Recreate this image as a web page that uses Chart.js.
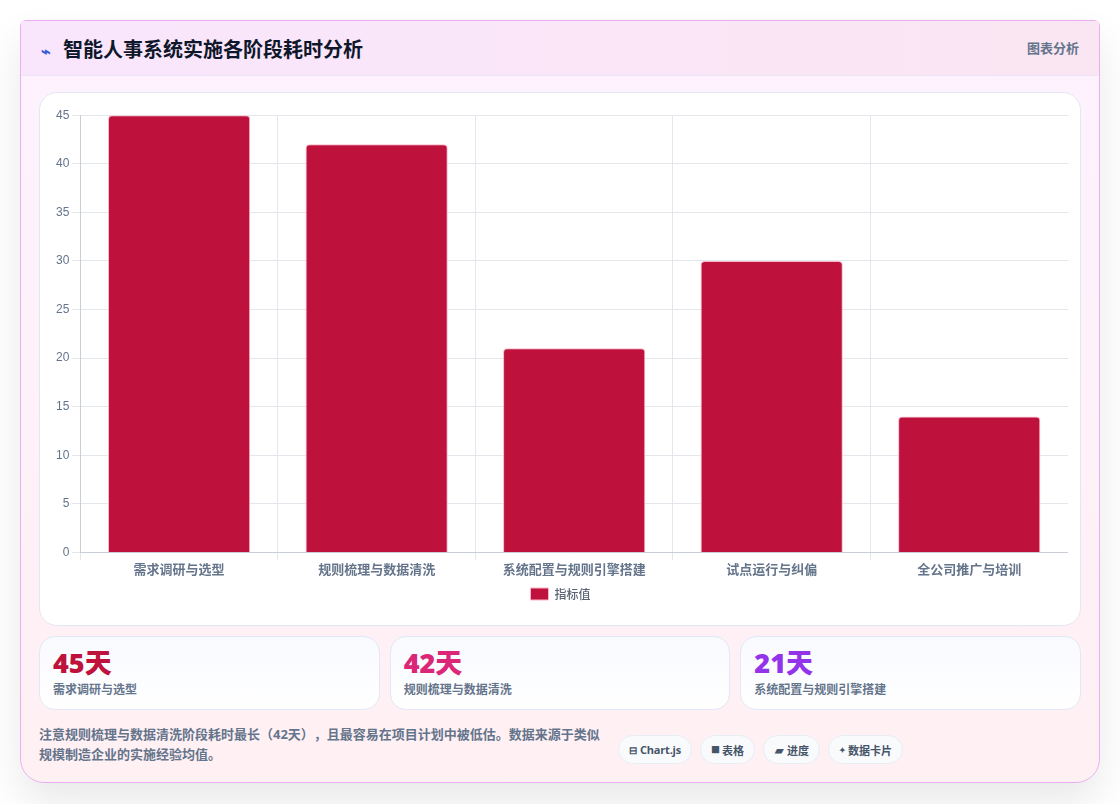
<!DOCTYPE html>
<html lang="zh">
<head>
<meta charset="utf-8">
<title>智能人事系统实施各阶段耗时分析</title>
<script src="https://cdn.jsdelivr.net/npm/chart.js@4"></script>
<style>
  * { box-sizing: border-box; }
  html, body { margin: 0; height: 804px; overflow: hidden; background: #fff; }
  body { font-family: "Open Sans", "Noto Sans CJK SC", sans-serif; text-spacing-trim: space-all; }
  .card {
    position: absolute; left: 20px; top: 20px; width: 1080px; height: 763px;
    border: 1px solid #e8b0f0; border-radius: 6px 6px 24px 24px;
    background: linear-gradient(180deg, #fdf2ff 0%, #fff0f3 100%);
    box-shadow: 0 20px 40px rgba(0,0,0,.09);
  }
  .head {
    height: 55px; padding: 0 20px; display: flex; align-items: center; justify-content: space-between;
    background: linear-gradient(90deg, #f9e6fd, #fae6f2);
    border-bottom: 1px solid #ece4f6;
  }
  .head h1 { margin: 0; font-size: 20px; font-weight: 700; color: #0f172a; }
  .head h1 i { font-style: normal; color: #3b5bdb; margin-right: 12px; font-size: 16px; }
  .head span { font-size: 13px; font-weight: 700; color: #64748b; position: relative; top: -1px; }
  .panel {
    position: absolute; left: 18px; top: 71px; width: 1042px; height: 534px;
    background: #fff; border: 1px solid #e2e8f0; border-radius: 18px;
  }
  .plot { position: absolute; left: 13px; top: 12px; width: 1015px; height: 505px; }
  .stats { position: absolute; left: 18px; top: 615px; width: 1042px; display: flex; gap: 10px; }
  .stat {
    flex: 1; height: 74px; padding: 10px 13px; border: 1px solid #e2e8f5; border-radius: 16px;
    background: linear-gradient(180deg, #f8faff, #fff);
  }
  .stat b { display: block; font-size: 27px; line-height: 32px; font-weight: 800; }
  .stat small { display: block; font-size: 12px; line-height: 21px; font-weight: 700; color: #64748b; }
  .note {
    position: absolute; left: 18px; top: 703px; width: 565px; margin: 0;
    font-size: 13px; line-height: 20px; font-weight: 700; color: #64748b;
  }
  .tags { position: absolute; left: 597px; top: 714px; display: flex; gap: 8px; }
  .tag {
    height: 29px; padding: 0 10px; display: flex; align-items: center; gap: 3px;
    border: 1px solid #e8edf5; border-radius: 15px; background: #f8fafc;
    font-size: 11px; font-weight: 700; color: #475569; white-space: nowrap;
  }
  .tag i { font-style: normal; text-align: center; display: inline-block; }
</style>
</head>
<body>
<div class="card">
  <div class="head">
    <h1><i>⌁</i>智能人事系统实施各阶段耗时分析</h1>
    <span>图表分析</span>
  </div>
  <div class="panel"><div class="plot"><canvas id="chartId"></canvas></div></div>
  <div class="stats" id="stats"></div>
  <p class="note">注意规则梳理与数据清洗阶段耗时最长（42天），且最容易在项目计划中被低估。数据来源于类似规模制造企业的实施经验均值。</p>
  <div class="tags">
    <div class="tag" style="letter-spacing:-.2px"><i style="width:8px;font-size:10px">⊟</i>Chart.js</div>
    <div class="tag"><i style="width:8px;font-size:9px">■</i>表格</div>
    <div class="tag"><i style="width:10px">▰</i>进度</div>
    <div class="tag"><i style="width:6px;font-size:8px">✦</i>数据卡片</div>
  </div>
</div>
<script>
const stages = ["需求调研与选型", "规则梳理与数据清洗", "系统配置与规则引擎搭建", "试点运行与纠偏", "全公司推广与培训"];
const days = [45, 42, 21, 30, 14];
const seriesName = "指标值";
const statColors = ["#be123c", "#db2777", "#9333ea"];

// top three stages get a summary card under the chart
const s = document.getElementById("stats");
for (let i = 0; i < statColors.length; i++) {
    s.innerHTML += '<div class="stat"><b style="color:' + statColors[i] + '">' + days[i] + '天</b><small>' + stages[i] + '</small></div>';
}

const tickColor = "#64748b";
const gridColor = "#e3e7ec";
const chrt = document.getElementById("chartId").getContext("2d");
new Chart(chrt, {
    type: "bar",
    data: {
        labels: stages,
        datasets: [{
            label: seriesName,
            data: days,
            backgroundColor: "#be123c",
            borderColor: "#fbb6c8",
            borderWidth: 1,
            borderRadius: 4
        }]
    },
    options: {
        responsive: true,
        maintainAspectRatio: false,
        animation: false,
        plugins: {
            legend: {
                position: "bottom",
                labels: { boxWidth: 18, boxHeight: 12, color: "#5b6472", font: { size: 12, weight: "500", lineHeight: 1.14, family: "'Noto Sans CJK SC'" } }
            },
            tooltip: { enabled: false }
        },
        scales: {
            x: {
                grid: { color: gridColor },
                border: { color: "#c9ced6" },
                ticks: { padding: 1, color: tickColor, font: { size: 13, weight: "700", family: "'Noto Sans CJK SC'" } }
            },
            y: {
                beginAtZero: true,
                max: 45,
                grid: { color: gridColor },
                border: { color: "#c9ced6" },
                ticks: { stepSize: 5, color: tickColor, font: { size: 12, family: "'Liberation Sans'" } }
            }
        }
    }
});
</script>
</body>
</html>
